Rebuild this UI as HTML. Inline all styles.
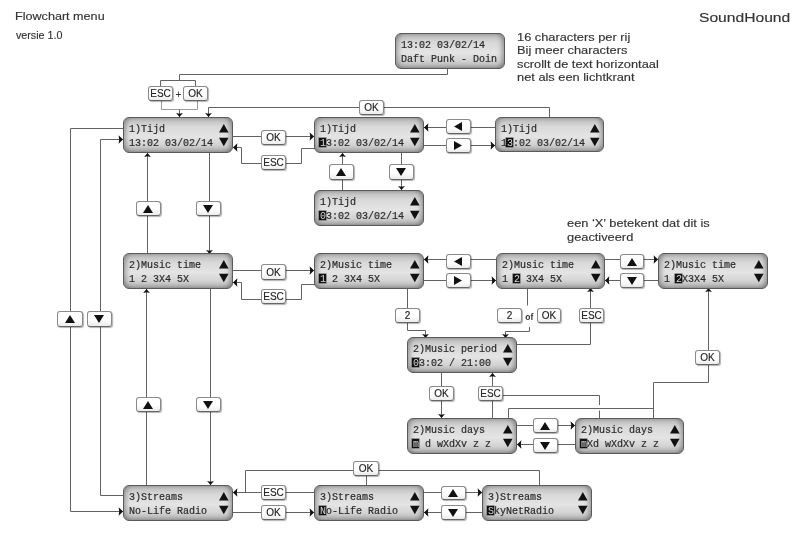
<!DOCTYPE html>
<html><head><meta charset="utf-8"><style>
html,body{margin:0;padding:0;background:#fff;}
body{width:800px;height:553px;position:relative;overflow:hidden;font-family:"Liberation Sans",sans-serif;color:#333;}
#w{position:absolute;left:0;top:0;width:800px;height:553px;will-change:transform;}
svg.lines{position:absolute;left:0;top:0;}
svg.lines polyline{fill:none;stroke:#626262;stroke-width:1;}
svg.lines polygon{fill:#111;}
.lcd{position:absolute;box-sizing:border-box;border:1px solid #5a5a5a;border-radius:6px;
 background:linear-gradient(#b8b8b8,#d8d8d8 25%,#e4e4e4 55%,#d2d2d2 80%,#a8a8a8);box-shadow:inset 4px 0 5px -2px rgba(0,0,0,.32),inset -4px 0 5px -2px rgba(0,0,0,.35);
 z-index:0;font-family:"Liberation Mono",monospace;font-size:10px;color:#2a2a2a;-webkit-text-stroke:0.2px #2a2a2a;}
.lcd .l1,.lcd .l2{position:absolute;left:5px;white-space:pre;line-height:10px;}
.lcd .l1{top:6.5px;}
.lcd .l2{top:20.5px;}
.lcd b{font-weight:normal;position:relative;color:#d8d8d8;-webkit-text-stroke:0;}
.lcd b::before{content:"";position:absolute;left:-0.8px;top:0.5px;width:6.6px;height:8.5px;background:#111;z-index:-1;box-shadow:0 0 0 0.6px #666;}
.lcd svg.tri{position:absolute;left:-1px;top:-1px;}
.lcd svg.tri polygon{fill:#111;}
.btn{position:absolute;box-sizing:border-box;border:1px solid #8a8a8a;border-bottom-color:#666;border-radius:3px;background:linear-gradient(#fff 55%,#ececec);box-shadow:1px 1px 1px rgba(0,0,0,.3);
 display:flex;align-items:center;justify-content:center;font-size:10px;color:#222;line-height:1;padding-top:1px;-webkit-text-stroke:0.15px #222;}
.btn svg{margin-top:-1px;margin-left:-1px;}
.btn svg polygon{fill:#111;}
.txt{position:absolute;white-space:pre;transform-origin:0 0;color:#333;-webkit-text-stroke:0.15px #333;}
</style></head><body>
<div id="w"><svg class="lines" width="800" height="553"><polyline points="447.5,68 447.5,74.5 179.5,74.5 179.5,80.5"/><polyline points="160.5,86 160.5,80.5 195.5,80.5 195.5,86"/><polyline points="161.5,101 161.5,109.5 197.5,109.5 197.5,101" style="stroke:#9a9a9a"/><polyline points="179.5,109.5 179.5,117"/><polyline points="549.5,117 549.5,107.5 208.5,107.5 208.5,117"/><polyline points="233,136.5 314,136.5"/><polyline points="315,148.5 301.5,148.5 301.5,163.5 241.5,163.5 241.5,147.5 233,147.5"/><polyline points="495,127.5 424,127.5"/><polyline points="424,145.5 495,145.5"/><polyline points="342.5,190 342.5,153"/><polyline points="401.5,153 401.5,190"/><polyline points="147.5,254 147.5,153"/><polyline points="209.5,153 209.5,254"/><polyline points="123,128.5 70.5,128.5 70.5,511.5 123,511.5"/><polyline points="123,495.5 100.5,495.5 100.5,139.5 123,139.5"/><polyline points="233,270.5 314,270.5"/><polyline points="315,284.5 301.5,284.5 301.5,299.5 241.5,299.5 241.5,282.5 233,282.5"/><polyline points="496,259.5 424,259.5"/><polyline points="424,280.5 496,280.5"/><polyline points="605,259.5 658,259.5"/><polyline points="658,280.5 605,280.5"/><polyline points="146.5,485 146.5,289"/><polyline points="210.5,289 210.5,485"/><polyline points="407.5,289 407.5,330.5 425.5,330.5 425.5,338"/><polyline points="527.5,288 527.5,305.5"/><polyline points="529.5,327 529.5,331.5 505.5,331.5 505.5,338"/><polyline points="517,344.5 590.5,344.5 590.5,288"/><polyline points="441.5,373 441.5,418"/><polyline points="492.5,418 492.5,373"/><polyline points="503,395.5 599.5,395.5 599.5,405"/><polyline points="599.5,410.5 599.5,418"/><polyline points="508.5,418 508.5,408.5 653.5,408.5"/><polyline points="653.5,418 653.5,382.5 708.5,382.5 708.5,288"/><polyline points="517,425.5 575,425.5"/><polyline points="575,444.5 517,444.5"/><polyline points="314,492.5 233,492.5"/><polyline points="245.5,492.5 245.5,470.5 539.5,470.5 539.5,485"/><polyline points="366.5,476 366.5,485"/><polyline points="233,512.5 314,512.5"/><polyline points="424,492.5 482,492.5"/><polyline points="483,512.5 424,512.5"/><polygon points="179.5,117 176.1,113 179.5,113.7 182.9,113"/><polygon points="208.5,117 205.1,113 208.5,113.7 211.9,113"/><polygon points="314,136.5 309.6,132.2 310.2,136.5 309.6,140.8"/><polygon points="233,147.5 237.4,143.2 236.8,147.5 237.4,151.8"/><polygon points="424,127.5 428.4,123.2 427.8,127.5 428.4,131.8"/><polygon points="495,145.5 490.6,141.2 491.2,145.5 490.6,149.8"/><polygon points="342.5,153 339.1,157 342.5,156.3 345.9,157"/><polygon points="401.5,190 398.1,186 401.5,186.7 404.9,186"/><polygon points="147.5,153 144.1,157 147.5,156.3 150.9,157"/><polygon points="209.5,254 206.1,250 209.5,250.7 212.9,250"/><polygon points="123,511.5 118.6,507.2 119.2,511.5 118.6,515.8"/><polygon points="123,139.5 118.6,135.2 119.2,139.5 118.6,143.8"/><polygon points="314,270.5 309.6,266.2 310.2,270.5 309.6,274.8"/><polygon points="233,282.5 237.4,278.2 236.8,282.5 237.4,286.8"/><polygon points="424,259.5 428.4,255.2 427.8,259.5 428.4,263.8"/><polygon points="496,280.5 491.6,276.2 492.2,280.5 491.6,284.8"/><polygon points="658,259.5 653.6,255.2 654.2,259.5 653.6,263.8"/><polygon points="605,280.5 609.4,276.2 608.8,280.5 609.4,284.8"/><polygon points="146.5,289 143.1,293 146.5,292.3 149.9,293"/><polygon points="210.5,485 207.1,481 210.5,481.7 213.9,481"/><polygon points="425.5,338 422.1,334 425.5,334.7 428.9,334"/><polygon points="505.5,338 502.1,334 505.5,334.7 508.9,334"/><polygon points="590.5,288 587.1,292 590.5,291.3 593.9,292"/><polygon points="441.5,418 438.1,414 441.5,414.7 444.9,414"/><polygon points="492.5,373 489.1,377 492.5,376.3 495.9,377"/><polygon points="708.5,288 705.1,292 708.5,291.3 711.9,292"/><polygon points="575,425.5 570.6,421.2 571.2,425.5 570.6,429.8"/><polygon points="517,444.5 521.4,440.2 520.8,444.5 521.4,448.8"/><polygon points="233,492.5 237.4,488.2 236.8,492.5 237.4,496.8"/><polygon points="314,512.5 309.6,508.2 310.2,512.5 309.6,516.8"/><polygon points="482,492.5 477.6,488.2 478.2,492.5 477.6,496.8"/><polygon points="424,512.5 428.4,508.2 427.8,512.5 428.4,516.8"/></svg>
<div class="lcd" style="left:395px;top:33px;width:110px;height:36px"><div class="l1">13:02 03/02/14</div><div class="l2">Daft Punk - Doin</div></div><div class="lcd" style="left:123px;top:117px;width:110px;height:36px"><div class="l1">1)Tijd</div><div class="l2">13:02 03/02/14</div><svg class="tri" width="110" height="36"><polygon points="96,15.5 100.8,7 105.6,15.5"/><polygon points="96,20.8 105.6,20.8 100.8,29.2"/></svg></div><div class="lcd" style="left:314px;top:117px;width:110px;height:36px"><div class="l1">1)Tijd</div><div class="l2"><b>1</b>3:02 03/02/14</div><svg class="tri" width="110" height="36"><polygon points="96,15.5 100.8,7 105.6,15.5"/><polygon points="96,20.8 105.6,20.8 100.8,29.2"/></svg></div><div class="lcd" style="left:495px;top:117px;width:109px;height:35px"><div class="l1">1)Tijd</div><div class="l2">1<b>3</b>:02 03/02/14</div><svg class="tri" width="109" height="35"><polygon points="95,15.5 99.8,7 104.6,15.5"/><polygon points="95,20.8 104.6,20.8 99.8,29.2"/></svg></div><div class="lcd" style="left:314px;top:190px;width:110px;height:36px"><div class="l1">1)Tijd</div><div class="l2"><b>0</b>3:02 03/02/14</div><svg class="tri" width="110" height="36"><polygon points="96,15.5 100.8,7 105.6,15.5"/><polygon points="96,20.8 105.6,20.8 100.8,29.2"/></svg></div><div class="lcd" style="left:123px;top:253px;width:110px;height:36px"><div class="l1">2)Music time</div><div class="l2">1 2 3X4 5X</div><svg class="tri" width="110" height="36"><polygon points="96,15.5 100.8,7 105.6,15.5"/><polygon points="96,20.8 105.6,20.8 100.8,29.2"/></svg></div><div class="lcd" style="left:314px;top:253px;width:110px;height:36px"><div class="l1">2)Music time</div><div class="l2"><b>1</b> 2 3X4 5X</div><svg class="tri" width="110" height="36"><polygon points="96,15.5 100.8,7 105.6,15.5"/><polygon points="96,20.8 105.6,20.8 100.8,29.2"/></svg></div><div class="lcd" style="left:496px;top:253px;width:109px;height:36px"><div class="l1">2)Music time</div><div class="l2">1 <b>2</b> 3X4 5X</div><svg class="tri" width="109" height="36"><polygon points="95,15.5 99.8,7 104.6,15.5"/><polygon points="95,20.8 104.6,20.8 99.8,29.2"/></svg></div><div class="lcd" style="left:658px;top:253px;width:110px;height:36px"><div class="l1">2)Music time</div><div class="l2">1 <b>2</b>X3X4 5X</div><svg class="tri" width="110" height="36"><polygon points="96,15.5 100.8,7 105.6,15.5"/><polygon points="96,20.8 105.6,20.8 100.8,29.2"/></svg></div><div class="lcd" style="left:407px;top:337px;width:110px;height:36px"><div class="l1">2)Music period</div><div class="l2"><b>0</b>3:02 / 21:00</div><svg class="tri" width="110" height="36"><polygon points="96,15.5 100.8,7 105.6,15.5"/><polygon points="96,20.8 105.6,20.8 100.8,29.2"/></svg></div><div class="lcd" style="left:407px;top:418px;width:110px;height:36px"><div class="l1">2)Music days</div><div class="l2"><b>m</b> d wXdXv z z</div><svg class="tri" width="110" height="36"><polygon points="96,15.5 100.8,7 105.6,15.5"/><polygon points="96,20.8 105.6,20.8 100.8,29.2"/></svg></div><div class="lcd" style="left:575px;top:418px;width:109px;height:36px"><div class="l1">2)Music days</div><div class="l2"><b>m</b>Xd wXdXv z z</div><svg class="tri" width="109" height="36"><polygon points="95,15.5 99.8,7 104.6,15.5"/><polygon points="95,20.8 104.6,20.8 99.8,29.2"/></svg></div><div class="lcd" style="left:123px;top:485px;width:110px;height:36px"><div class="l1">3)Streams</div><div class="l2">No-Life Radio</div><svg class="tri" width="110" height="36"><polygon points="96,15.5 100.8,7 105.6,15.5"/><polygon points="96,20.8 105.6,20.8 100.8,29.2"/></svg></div><div class="lcd" style="left:314px;top:485px;width:110px;height:36px"><div class="l1">3)Streams</div><div class="l2"><b>N</b>o-Life Radio</div><svg class="tri" width="110" height="36"><polygon points="96,15.5 100.8,7 105.6,15.5"/><polygon points="96,20.8 105.6,20.8 100.8,29.2"/></svg></div><div class="lcd" style="left:482px;top:485px;width:110px;height:36px"><div class="l1">3)Streams</div><div class="l2"><b>S</b>kyNetRadio</div><svg class="tri" width="110" height="36"><polygon points="96,15.5 100.8,7 105.6,15.5"/><polygon points="96,20.8 105.6,20.8 100.8,29.2"/></svg></div><div class="btn" style="left:148px;top:86px;width:25px;height:15px">ESC</div><div class="btn" style="left:183px;top:86px;width:25px;height:15px">OK</div><div class="btn" style="left:359px;top:100px;width:25px;height:15px">OK</div><div class="btn" style="left:261px;top:130px;width:25px;height:15px">OK</div><div class="btn" style="left:261px;top:155px;width:25px;height:15px">ESC</div><div class="btn" style="left:446px;top:119px;width:25px;height:15px"><svg width="9" height="9" viewBox="0 0 9 9"><polygon points="8,0 0,4.5 8,9"/></svg></div><div class="btn" style="left:446px;top:138px;width:25px;height:15px"><svg width="9" height="9" viewBox="0 0 9 9"><polygon points="0,0 8,4.5 0,9"/></svg></div><div class="btn" style="left:329px;top:164px;width:25px;height:16px"><svg width="10" height="8" viewBox="0 0 10 8"><polygon points="0,8 5,0 10,8"/></svg></div><div class="btn" style="left:389px;top:164px;width:25px;height:16px"><svg width="10" height="8" viewBox="0 0 10 8"><polygon points="0,0 5,8 10,0"/></svg></div><div class="btn" style="left:136px;top:201px;width:25px;height:15px"><svg width="10" height="8" viewBox="0 0 10 8"><polygon points="0,8 5,0 10,8"/></svg></div><div class="btn" style="left:196px;top:201px;width:25px;height:15px"><svg width="10" height="8" viewBox="0 0 10 8"><polygon points="0,0 5,8 10,0"/></svg></div><div class="btn" style="left:57px;top:311px;width:26px;height:16px"><svg width="10" height="8" viewBox="0 0 10 8"><polygon points="0,8 5,0 10,8"/></svg></div><div class="btn" style="left:87px;top:311px;width:25px;height:16px"><svg width="10" height="8" viewBox="0 0 10 8"><polygon points="0,0 5,8 10,0"/></svg></div><div class="btn" style="left:261px;top:264px;width:25px;height:16px">OK</div><div class="btn" style="left:261px;top:289px;width:25px;height:15px">ESC</div><div class="btn" style="left:446px;top:254px;width:25px;height:15px"><svg width="9" height="9" viewBox="0 0 9 9"><polygon points="8,0 0,4.5 8,9"/></svg></div><div class="btn" style="left:446px;top:273px;width:25px;height:15px"><svg width="9" height="9" viewBox="0 0 9 9"><polygon points="0,0 8,4.5 0,9"/></svg></div><div class="btn" style="left:620px;top:254px;width:24px;height:15px"><svg width="10" height="8" viewBox="0 0 10 8"><polygon points="0,8 5,0 10,8"/></svg></div><div class="btn" style="left:620px;top:273px;width:24px;height:15px"><svg width="10" height="8" viewBox="0 0 10 8"><polygon points="0,0 5,8 10,0"/></svg></div><div class="btn" style="left:395px;top:308px;width:25px;height:15px">2</div><div class="btn" style="left:497px;top:308px;width:25px;height:15px">2</div><div class="btn" style="left:537px;top:308px;width:24px;height:15px">OK</div><div class="btn" style="left:579px;top:308px;width:25px;height:15px">ESC</div><div class="btn" style="left:136px;top:397px;width:25px;height:15px"><svg width="10" height="8" viewBox="0 0 10 8"><polygon points="0,8 5,0 10,8"/></svg></div><div class="btn" style="left:196px;top:397px;width:25px;height:15px"><svg width="10" height="8" viewBox="0 0 10 8"><polygon points="0,0 5,8 10,0"/></svg></div><div class="btn" style="left:695px;top:350px;width:25px;height:15px">OK</div><div class="btn" style="left:429px;top:386px;width:25px;height:15px">OK</div><div class="btn" style="left:478px;top:386px;width:25px;height:15px">ESC</div><div class="btn" style="left:533px;top:418px;width:25px;height:15px"><svg width="10" height="8" viewBox="0 0 10 8"><polygon points="0,8 5,0 10,8"/></svg></div><div class="btn" style="left:533px;top:438px;width:25px;height:15px"><svg width="10" height="8" viewBox="0 0 10 8"><polygon points="0,0 5,8 10,0"/></svg></div><div class="btn" style="left:353px;top:461px;width:26px;height:15px">OK</div><div class="btn" style="left:261px;top:485px;width:25px;height:15px">ESC</div><div class="btn" style="left:261px;top:505px;width:25px;height:15px">OK</div><div class="btn" style="left:441px;top:486px;width:25px;height:14px"><svg width="10" height="8" viewBox="0 0 10 8"><polygon points="0,8 5,0 10,8"/></svg></div><div class="btn" style="left:441px;top:505px;width:25px;height:15px"><svg width="10" height="8" viewBox="0 0 10 8"><polygon points="0,0 5,8 10,0"/></svg></div>
<div class="txt" style="left:15px;top:10px;font-size:10.5px;transform:scaleX(1.2);">Flowchart menu</div>
<div class="txt" style="left:15.5px;top:29.5px;font-size:10px;transform:scaleX(1.07);">versie 1.0</div>
<div class="txt" style="left:699px;top:10.5px;font-size:12.5px;transform:scaleX(1.25);">SoundHound</div>
<div class="txt" style="left:517px;top:30.5px;font-size:11px;line-height:13.5px;transform:scaleX(1.165);">16 characters per rij
Bij meer characters
scrollt de text horizontaal
net als een lichtkrant</div>
<div class="txt" style="left:566.5px;top:217px;font-size:11px;line-height:13.5px;transform:scaleX(1.165);">een ‘X’ betekent dat dit is
geactiveerd</div>
<div class="txt" style="left:175.5px;top:88.5px;font-size:10px;">+</div>
<div class="txt" style="left:525.3px;top:311.5px;font-size:8.5px;font-weight:bold;-webkit-text-stroke:0;">of</div>
</div></body></html>
